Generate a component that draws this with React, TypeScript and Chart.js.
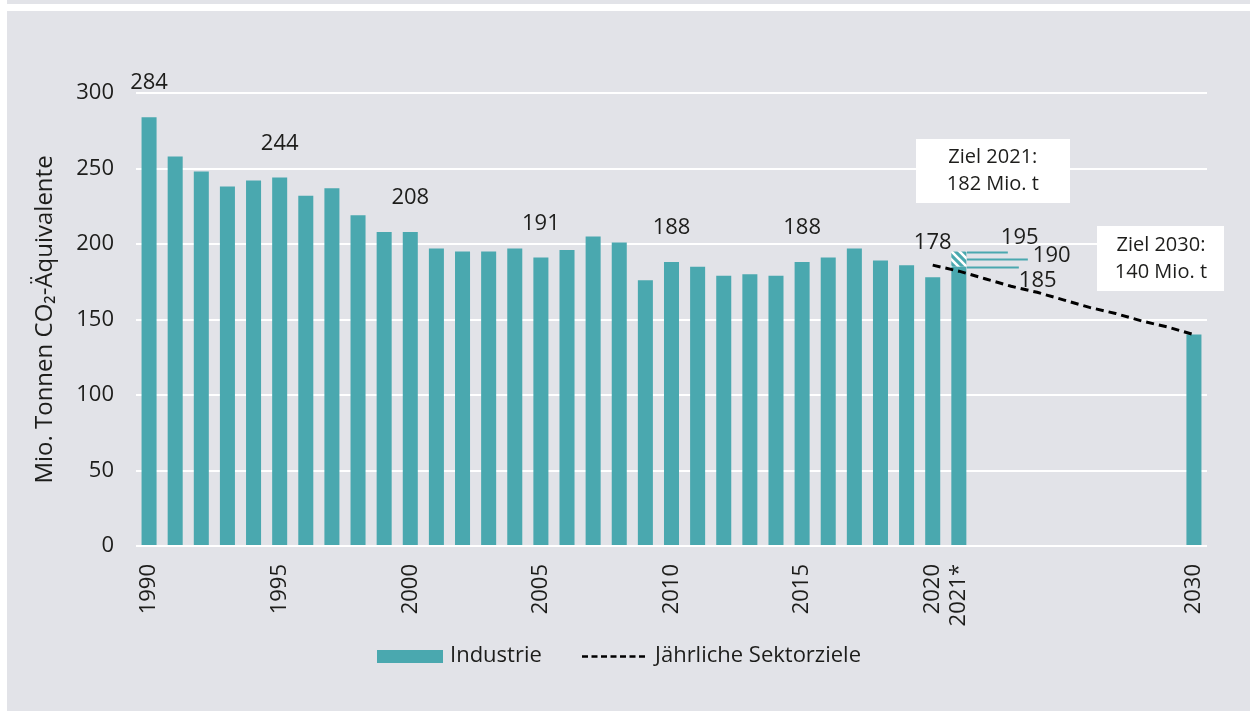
import React, { useEffect, useRef } from 'react';
import { Chart, registerables } from 'chart.js';

Chart.register(...registerables);

// ---------- DATA ----------
const years: string[] = [
  '1990', '1991', '1992', '1993', '1994', '1995', '1996', '1997', '1998', '1999',
  '2000', '2001', '2002', '2003', '2004', '2005', '2006', '2007', '2008', '2009',
  '2010', '2011', '2012', '2013', '2014', '2015', '2016', '2017', '2018', '2019',
  '2020', '2021', '2022', '2023', '2024', '2025', '2026', '2027', '2028', '2029',
  '2030',
];

// Industrie emissions (Mio. t CO2-Äq.)
const industrie: (number | null)[] = [
  284, 258, 248, 238, 242, 244, 232, 237, 219, 208,
  208, 197, 195, 195, 197, 191, 196, 205, 201, 176,
  188, 185, 179, 180, 179, 188, 191, 197, 189, 186,
  178, 185, null, null, null, null, null, null, null, null,
  140,
];

// 2021 estimate range (185 – 195), hatched part on top of the bar
const spanne2021: (number | null)[] = [
  null, null, null, null, null, null, null, null, null, null,
  null, null, null, null, null, null, null, null, null, null,
  null, null, null, null, null, null, null, null, null, null,
  null, 10, null, null, null, null, null, null, null, null,
  null,
];

// Jährliche Sektorziele
const sektorziele: (number | null)[] = [
  null, null, null, null, null, null, null, null, null, null,
  null, null, null, null, null, null, null, null, null, null,
  null, null, null, null, null, null, null, null, null, null,
  186, 182, 177, 172, 168, 163, 158, 154, 149, 145,
  140,
];

const labeledYears: string[] = ['1990', '1995', '2000', '2005', '2010', '2015', '2020'];
const rangeValues: number[] = [195, 190, 185];
const tickLabels: Record<string, string> = {
  '1990': '1990', '1995': '1995', '2000': '2000', '2005': '2005', '2010': '2010',
  '2015': '2015', '2020': '2020', '2021': '2021*', '2030': '2030',
};
const ziel2021Text: string[] = ['Ziel 2021:', '182 Mio. t'];
const ziel2030Text: string[] = ['Ziel 2030:', '140 Mio. t'];

// ---------- STYLE ----------
const TEAL = '#4aa8af';
const TEXT = '#1d1d1b';
const PANEL = '#e2e3e8';
const FONT = '"Open Sans", sans-serif';

function makeHatch(): CanvasPattern | string {
  const c = document.createElement('canvas');
  c.width = 8;
  c.height = 8;
  const g = c.getContext('2d');
  if (!g) return TEAL;
  g.fillStyle = TEAL;
  g.fillRect(0, 0, 8, 8);
  g.strokeStyle = '#ffffff';
  g.lineWidth = 2.6;
  g.beginPath();
  g.moveTo(-2, -2); g.lineTo(10, 10);
  g.moveTo(-6, 2); g.lineTo(2, 10);
  g.moveTo(6, -2); g.lineTo(14, 6);
  g.stroke();
  const p = g.createPattern(c, 'repeat');
  return p || TEAL;
}

const overlayPlugin = {
  id: 'overlay',
  afterDatasetsDraw(chart: any) {
    const ctx = chart.ctx as CanvasRenderingContext2D;
    const xs = chart.scales.x;
    const ys = chart.scales.y;
    ctx.save();
    // data labels
    ctx.fillStyle = TEXT;
    ctx.font = `22px ${FONT}`;
    ctx.textAlign = 'center';
    ctx.textBaseline = 'middle';
    labeledYears.forEach((yr) => {
      const i = years.indexOf(yr);
      const v = industrie[i];
      if (v == null) return;
      ctx.fillText(String(v), xs.getPixelForValue(i), ys.getPixelForValue(v) - 34);
    });

    // 2021 range annotation
    const i21 = years.indexOf('2021');
    const x21 = xs.getPixelForValue(i21);
    const barRight = x21 + 8;
    const lineEnds = [41, 61, 52];
    ctx.strokeStyle = TEAL;
    ctx.lineWidth = 2;
    rangeValues.forEach((v, k) => {
      const py = Math.round(ys.getPixelForValue(v)) + 0.5;
      ctx.beginPath();
      ctx.moveTo(barRight, py);
      ctx.lineTo(barRight + lineEnds[k], py);
      ctx.stroke();
    });
    ctx.fillStyle = TEXT;
    ctx.textAlign = 'left';
    const p195 = ys.getPixelForValue(rangeValues[0]);
    const p190 = ys.getPixelForValue(rangeValues[1]);
    const p185 = ys.getPixelForValue(rangeValues[2]);
    ctx.fillText(String(rangeValues[0]), barRight + 34, p195 - 14);
    ctx.fillText(String(rangeValues[1]), barRight + 66, p190 - 3);
    ctx.fillText(String(rangeValues[2]), barRight + 52, p185 + 14);

    // Ziel boxes
    const drawBox = (cx: number, cy: number, w: number, h: number, lines: string[]) => {
      ctx.fillStyle = '#ffffff';
      ctx.fillRect(Math.round(cx - w / 2), Math.round(cy - h / 2), w, h);
      ctx.fillStyle = TEXT;
      ctx.font = `20px ${FONT}`;
      ctx.textAlign = 'center';
      ctx.textBaseline = 'middle';
      ctx.fillText(lines[0], cx, cy - 13);
      ctx.fillText(lines[1], cx, cy + 14);
    };
    drawBox(x21 + 34, ys.getPixelForValue(250) + 2, 154, 64, ziel2021Text);
    const x30 = xs.getPixelForValue(years.indexOf('2030'));
    drawBox(x30 - 33, ys.getPixelForValue(200) + 14, 127, 65, ziel2030Text);

    // legend
    const ly = 645;
    ctx.fillStyle = TEAL;
    ctx.fillRect(370, ly - 6, 66, 13);
    ctx.fillStyle = TEXT;
    ctx.font = `22px ${FONT}`;
    ctx.textAlign = 'left';
    ctx.textBaseline = 'middle';
    ctx.fillText('Industrie', 443, ly);
    ctx.strokeStyle = '#000000';
    ctx.lineWidth = 2.5;
    ctx.setLineDash([6, 3.5]);
    ctx.beginPath();
    ctx.moveTo(575, ly + 0.5);
    ctx.lineTo(641, ly + 0.5);
    ctx.stroke();
    ctx.setLineDash([]);
    ctx.fillText('Jährliche Sektorziele', 648, ly);
    ctx.restore();
  },
};

export default function App() {
  const ref = useRef<HTMLCanvasElement | null>(null);

  useEffect(() => {
    if (!ref.current) return;
    const hatch = makeHatch();
    const chart = new Chart(ref.current, {
      type: 'bar',
      data: {
        labels: years,
        datasets: [
          {
            type: 'line' as const,
            label: 'Jährliche Sektorziele',
            data: sektorziele,
            borderColor: '#000000',
            borderWidth: 3,
            borderDash: [8, 5],
            pointRadius: 0,
            fill: false,
            spanGaps: false,
            order: 0,
            stack: 'ziele',
          },
          {
            label: 'Industrie',
            data: industrie,
            backgroundColor: TEAL,
            borderWidth: 0,
            categoryPercentage: 1,
            barPercentage: 0.575,
            order: 1,
            stack: 'ind',
          },
          {
            label: 'Spanne 2021',
            data: spanne2021,
            backgroundColor: hatch as any,
            borderWidth: 0,
            categoryPercentage: 1,
            barPercentage: 0.575,
            order: 2,
            stack: 'ind',
          },
        ],
      } as any,
      options: {
        responsive: false,
        animation: false,
        devicePixelRatio: 1,
        layout: { padding: { left: 0, top: 82, right: 43, bottom: 85 } },
        plugins: {
          legend: { display: false },
          tooltip: { enabled: false },
          title: { display: false },
        },
        scales: {
          x: {
            stacked: true,
            offset: true,
            grid: { display: false, drawTicks: false },
            border: { display: false },
            afterFit: (s: any) => { s.height = 80; },
            ticks: {
              autoSkip: false,
              maxRotation: 90,
              minRotation: 90,
              padding: 18,
              color: TEXT,
              font: { family: FONT, size: 22 },
              callback: (_v: any, idx: number) => tickLabels[years[idx]] || '',
            },
          },
          y: {
            stacked: true,
            min: 0,
            max: 300,
            afterFit: (s: any) => { s.width = 129; },
            grid: { color: '#ffffff', lineWidth: 2, drawTicks: false },
            border: { display: false },
            ticks: {
              stepSize: 50,
              padding: 22,
              color: TEXT,
              font: { family: FONT, size: 22 },
            },
            title: {
              display: true,
              text: 'Mio. Tonnen CO₂-Äquivalente',
              color: TEXT,
              font: { family: FONT, size: 24 },
              padding: { top: 24, bottom: 0 },
            },
          },
        },
      } as any,
      plugins: [overlayPlugin],
    });
    return () => chart.destroy();
  }, []);

  return (
    <div style={{ position: 'fixed', left: 0, top: 0, width: 1250, height: 711, background: '#ffffff' }}>
      <div style={{ position: 'absolute', left: 7, top: 0, width: 1243, height: 4, background: PANEL }} />
      <div style={{ position: 'absolute', left: 7, top: 11, width: 1243, height: 700, background: PANEL }}>
        <canvas ref={ref} width={1243} height={700} style={{ display: 'block', width: 1243, height: 700 }} />
      </div>
    </div>
  );
}
